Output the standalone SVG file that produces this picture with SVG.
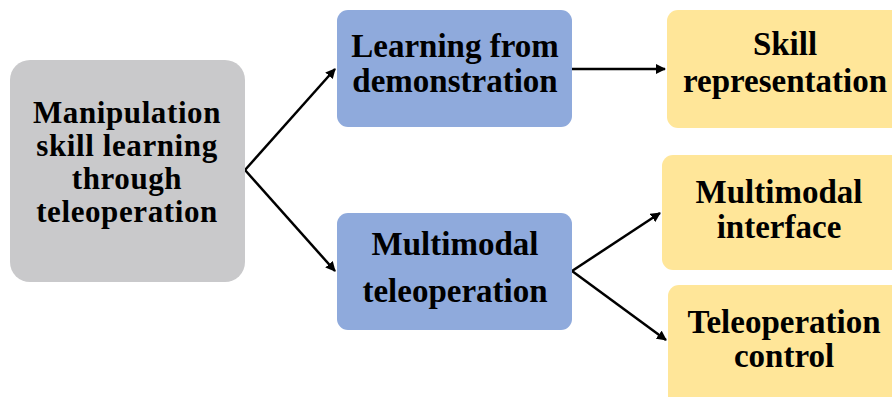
<svg xmlns="http://www.w3.org/2000/svg" width="892" height="397" viewBox="0 0 892 397">
  <style>
    .lbl { font-family: "Liberation Serif", "Times New Roman", serif; font-weight: bold; font-size: 33px; fill: #000; text-anchor: middle; }
    .tight { font-size: 31px; letter-spacing: 0.6px; }
    .gray { fill: #C9C9CB; }
    .blue { fill: #8FAADC; }
    .yellow { fill: #FFE699; }
    .conn { stroke: #000; stroke-width: 2.5; fill: none; }
  </style>
  <defs>
    <marker id="arrow" viewBox="0 0 10 10" refX="9" refY="5" markerWidth="4" markerHeight="4" orient="auto" markerUnits="strokeWidth">
      <path d="M0,0 L10,5 L0,10 z" fill="#000"/>
    </marker>
  </defs>
  <rect width="892" height="397" fill="#fff"/>

  <g id="connectors">
    <line class="conn" x1="245" y1="170" x2="335" y2="69" marker-end="url(#arrow)"/>
    <line class="conn" x1="245" y1="170" x2="335" y2="271" marker-end="url(#arrow)"/>
    <line class="conn" x1="572" y1="69" x2="665" y2="69" marker-end="url(#arrow)"/>
    <line class="conn" x1="572" y1="271" x2="660" y2="213" marker-end="url(#arrow)"/>
    <line class="conn" x1="572" y1="271" x2="666" y2="340" marker-end="url(#arrow)"/>
  </g>

  <g id="node-root">
    <rect class="gray" x="10" y="60" width="235" height="222" rx="20"/>
    <text class="lbl tight" x="127" y="123">Manipulation</text>
    <text class="lbl tight" x="127" y="156">skill learning</text>
    <text class="lbl tight" x="127" y="189">through</text>
    <text class="lbl tight" x="127" y="222">teleoperation</text>
  </g>

  <g id="node-lfd">
    <rect class="blue" x="337" y="10" width="235" height="117" rx="11"/>
    <text class="lbl" x="455" y="57">Learning from</text>
    <text class="lbl" x="455" y="92">demonstration</text>
  </g>

  <g id="node-teleop">
    <rect class="blue" x="337" y="213" width="235" height="117" rx="11"/>
    <text class="lbl" x="455" y="255">Multimodal</text>
    <text class="lbl" x="455" y="302">teleoperation</text>
  </g>

  <g id="node-skill">
    <rect class="yellow" x="667" y="10" width="240" height="118" rx="11"/>
    <text class="lbl" x="785" y="55">Skill</text>
    <text class="lbl" x="785" y="92">representation</text>
  </g>

  <g id="node-interface">
    <rect class="yellow" x="662" y="155" width="245" height="115" rx="11"/>
    <text class="lbl" x="779" y="203">Multimodal</text>
    <text class="lbl" x="779" y="238">interface</text>
  </g>

  <g id="node-control">
    <rect class="yellow" x="668" y="285" width="240" height="125" rx="11"/>
    <text class="lbl" x="784" y="333">Teleoperation</text>
    <text class="lbl" x="784" y="367">control</text>
  </g>
</svg>
